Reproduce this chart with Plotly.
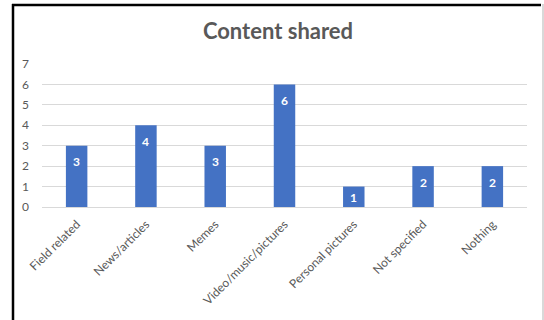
import plotly.graph_objects as go

categories = ["Field related", "News/articles", "Memes", "Video/music/pictures",
              "Personal pictures", "Not specified", "Nothing"]
values = [3, 4, 3, 6, 1, 2, 2]
y_ticks = [0, 1, 2, 3, 4, 5, 6, 7]

W, H = 544, 320
L, R, T, B = 42, 17, 64, 113
pw, ph = W - L - R, H - T - B
YMAX = 7

def px_x(x):
    return (x - L) / pw

def px_y(y):
    return 1 + (T - y) / ph

fig = go.Figure(go.Bar(
    x=categories, y=values,
    marker=dict(color="#4472C4", line=dict(width=0)),
    hoverinfo="x+y",
))

annotations = []
for c, v in zip(categories, values):
    bar_px = v * ph / YMAX
    annotations.append(dict(
        x=c, y=v, xref="x", yref="y", text=f"<b>{v}</b>", showarrow=False,
        yshift=-min(16, bar_px / 2 + 1), xanchor="center", yanchor="middle",
        font=dict(color="white", size=12, family="Lato"),
    ))

fig.update_layout(
    width=W, height=H,
    margin=dict(l=L, r=R, t=T, b=B, autoexpand=False),
    paper_bgcolor="white", plot_bgcolor="white",
    bargap=0.69,
    showlegend=False,
    title=dict(text="<b>Content shared</b>", x=(278 - L) / pw, xref="paper", xanchor="center",
               y=1 - 31 / H, yref="container", yanchor="middle",
               font=dict(family="Lato", size=22, color="#595959")),
    font=dict(family="Lato", color="#595959"),
    xaxis=dict(tickangle=-45, tickfont=dict(size=12, color="#595959"),
               showgrid=False, showline=False, ticks="", automargin=False,
               ticklabelstandoff=7),
    yaxis=dict(range=[0, YMAX], tickvals=y_ticks, tickfont=dict(size=12, color="#595959"),
               showgrid=True, gridcolor="#D9D9D9", gridwidth=1,
               zeroline=True, zerolinecolor="#D9D9D9", zerolinewidth=1,
               showline=False, ticks="", ticklabelstandoff=12, automargin=False),
    annotations=annotations,
    shapes=[
        dict(type="line", xref="paper", yref="paper", x0=px_x(13), x1=px_x(13),
             y0=px_y(4), y1=px_y(330), line=dict(color="black", width=2.5)),
        dict(type="line", xref="paper", yref="paper", x0=px_x(12), x1=px_x(541),
             y0=px_y(5), y1=px_y(5), line=dict(color="black", width=2.5)),
        dict(type="line", xref="paper", yref="paper", x0=px_x(543), x1=px_x(543),
             y0=px_y(4), y1=px_y(330), line=dict(color="#CCCCCC", width=1.5)),
    ],
)

fig.write_html("out.html", config={"displayModeBar": False},
               post_script="document.body.style.margin='0';document.body.style.padding='0';")
